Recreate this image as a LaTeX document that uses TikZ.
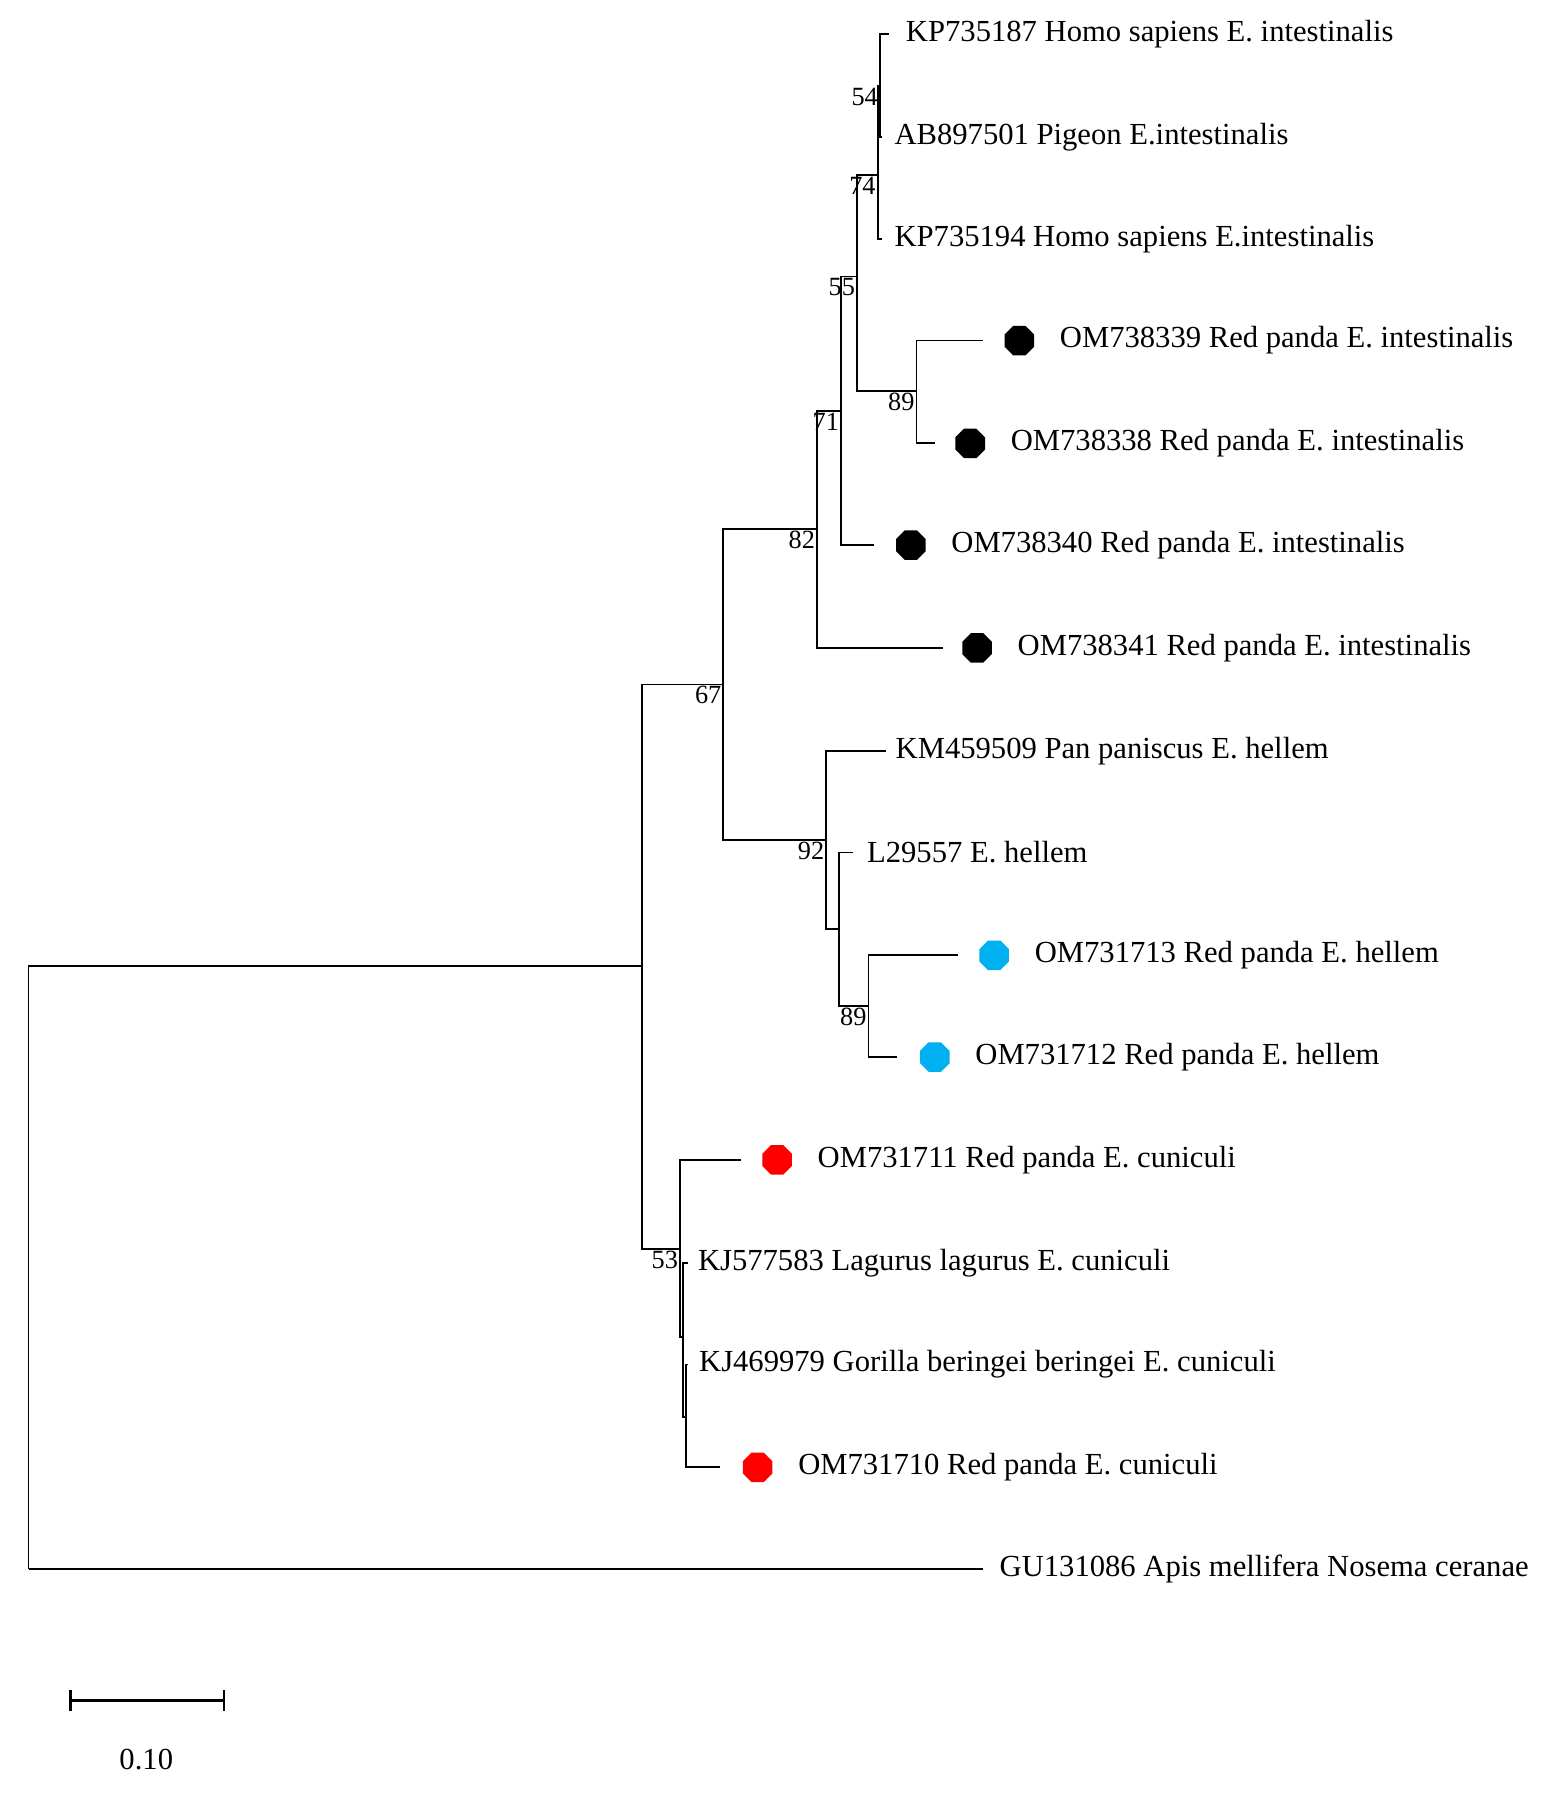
\documentclass[tikz,border=0pt]{standalone}
\usepackage{fontspec}
\setmainfont{Liberation Serif}
\usetikzlibrary{shapes.geometric,positioning}
\definecolor{hellemblue}{RGB}{0,176,240}
\begin{document}
\begin{tikzpicture}[x=1pt,y=-1pt,line width=1.6pt,
    taxon/.style={anchor=west,inner sep=0pt,font=\fontsize{26.8}{30}\selectfont},
    boot/.style={anchor=north east,inner sep=1pt,font=\fontsize{23}{26}\selectfont},
    dot/.style={regular polygon,regular polygon sides=8,minimum size=28pt,inner sep=0pt,fill=#1,draw=none}]
  \useasboundingbox (0,0) rectangle (1365,1569);
  % internal nodes
  \coordinate (root) at (25,1373);
  \coordinate (n0) at (562,845);
  \coordinate (n67) at (633,599);
  \coordinate (n53) at (595,1093);
  \coordinate (n82) at (715,463);
  \coordinate (n92) at (723,735);
  \coordinate (n71) at (736,360);
  \coordinate (n55) at (750,242);
  \coordinate (n74) at (768,153);
  \coordinate (n54) at (770,75);
  \coordinate (n89a) at (802,342);
  \coordinate (nh) at (734,813);
  \coordinate (n89b) at (760,880);
  \coordinate (nc1) at (598,1170);
  \coordinate (nc2) at (600,1240);
  % tips
  \coordinate (t1) at (778,30);
  \coordinate (t2) at (772,120);
  \coordinate (t3) at (772,209);
  \coordinate (t4) at (860,298);
  \coordinate (t5) at (818,388);
  \coordinate (t6) at (765,477);
  \coordinate (t7) at (825,567);
  \coordinate (t8) at (775,657);
  \coordinate (t9) at (746,746);
  \coordinate (t10) at (838,836);
  \coordinate (t11) at (785,925);
  \coordinate (t12) at (648,1015);
  \coordinate (t13) at (602,1105);
  \coordinate (t14) at (602,1194);
  \coordinate (t15) at (630,1284);
  \coordinate (t16) at (860,1373);
  % branches
  \draw (root) |- (n0);
  \draw (root) -- (t16);
  \draw (n0) |- (n67);
  \draw (n0) |- (n53);
  \draw (n67) |- (n82);
  \draw (n67) |- (n92);
  \draw (n82) |- (n71);
  \draw (n82) |- (t7);
  \draw (n71) |- (n55);
  \draw (n71) |- (t6);
  \draw (n55) |- (n74);
  \draw (n55) |- (n89a);
  \draw (n74) |- (n54);
  \draw (n74) |- (t3);
  \draw (n54) |- (t1);
  \draw (n54) |- (t2);
  \draw (n89a) |- (t4);
  \draw (n89a) |- (t5);
  \draw (n92) |- (t8);
  \draw (n92) |- (nh);
  \draw (nh) |- (t9);
  \draw (nh) |- (n89b);
  \draw (n89b) |- (t10);
  \draw (n89b) |- (t11);
  \draw (n53) |- (t12);
  \draw (n53) |- (nc1);
  \draw (nc1) |- (t13);
  \draw (nc1) |- (nc2);
  \draw (nc2) |- (t14);
  \draw (nc2) |- (t15);
  % bootstrap values
  \node[boot] at (n67) {67};
  \node[boot] at (n53) {53};
  \node[boot] at (n82) {82};
  \node[boot] at (n92) {92};
  \node[boot] at (n71) {71};
  \node[boot] at (n55) {55};
  \node[boot] at (n74) {74};
  \node[boot] at (n54) {54};
  \node[boot] at (n89a) {89};
  \node[boot] at (n89b) {89};
  % markers
  \node[dot=black] (d4) at (892,298) {};
  \node[dot=black] (d5) at (849,388) {};
  \node[dot=black] (d6) at (797,477) {};
  \node[dot=black] (d7) at (855,567) {};
  \node[dot=hellemblue] (d10) at (870,836) {};
  \node[dot=hellemblue] (d11) at (818,925) {};
  \node[dot=red] (d12) at (680,1015) {};
  \node[dot=red] (d15) at (663,1284) {};
  % labels
  \node[taxon] at (792,30) {KP735187 Homo sapiens E. intestinalis};
  \node[taxon] at (782,120) {AB897501 Pigeon E.intestinalis};
  \node[taxon] at (782,209) {KP735194 Homo sapiens E.intestinalis};
  \node[taxon,right=21pt of d4] {OM738339 Red panda E. intestinalis};
  \node[taxon,right=21pt of d5] {OM738338 Red panda E. intestinalis};
  \node[taxon,right=21pt of d6] {OM738340 Red panda E. intestinalis};
  \node[taxon,right=21pt of d7] {OM738341 Red panda E. intestinalis};
  \node[taxon] at (783,657) {KM459509 Pan paniscus E. hellem};
  \node[taxon] at (758,746) {L29557 E. hellem};
  \node[taxon,right=21pt of d10] {OM731713 Red panda E. hellem};
  \node[taxon,right=21pt of d11] {OM731712 Red panda E. hellem};
  \node[taxon,right=21pt of d12] {OM731711 Red panda E. cuniculi};
  \node[taxon] at (610,1105) {KJ577583 Lagurus lagurus E. cuniculi};
  \node[taxon] at (611,1194) {KJ469979 Gorilla beringei beringei E. cuniculi};
  \node[taxon,right=21pt of d15] {OM731710 Red panda E. cuniculi};
  \node[taxon] at (874,1373) {GU131086 Apis mellifera Nosema ceranae};
  % scale bar
  \coordinate (s1) at (62,1488);
  \coordinate (s2) at (196,1488);
  \draw[line width=2.4pt] (s1) -- (s2);
  \draw[line width=2.4pt] ([yshift=-9pt]s1) -- ([yshift=9pt]s1);
  \draw[line width=2.4pt] ([yshift=-9pt]s2) -- ([yshift=9pt]s2);
  \node[font=\fontsize{26.8}{30}\selectfont] at (128,1540) {0.10};
\end{tikzpicture}
\end{document}
